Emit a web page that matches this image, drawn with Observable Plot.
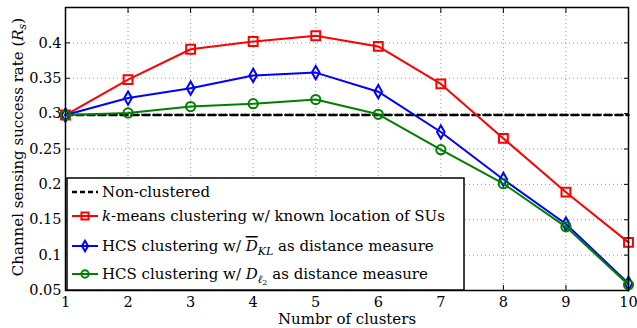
<!DOCTYPE html>
<html><head><meta charset="utf-8">
<script src="https://cdn.jsdelivr.net/npm/d3@7"></script>
<script src="https://cdn.jsdelivr.net/npm/@observablehq/plot@0.6"></script>
<style>body{margin:0;background:#fff}</style>
</head><body><div id="chart"></div>
<script>
const clusters = [1, 2, 3, 4, 5, 6, 7, 8, 9, 10];
const nonClustered = [0.298, 0.298, 0.298, 0.298, 0.298, 0.298, 0.298, 0.298, 0.298, 0.298];
const kmeans = [0.298, 0.348, 0.391, 0.402, 0.410, 0.395, 0.342, 0.265, 0.189, 0.118];
const hcsKL = [0.298, 0.322, 0.336, 0.354, 0.358, 0.331, 0.274, 0.207, 0.144, 0.060];
const hcsL2 = [0.298, 0.301, 0.310, 0.314, 0.320, 0.299, 0.249, 0.201, 0.140, 0.058];
const yTicks = [0.05, 0.1, 0.15, 0.2, 0.25, 0.3, 0.35, 0.4];
const xLabel = "Numbr of clusters";

const series = [
  {key: "non", values: nonClustered, color: "black", symbol: null, dash: "7,4", width: 2.6},
  {key: "kmeans", values: kmeans, color: "#ff0000", symbol: "square", r: 5, dash: null, width: 2},
  {key: "kl", values: hcsKL, color: "#0000ff", symbol: "diamond", r: 4, dash: null, width: 2},
  {key: "l2", values: hcsL2, color: "#008000", symbol: "circle", r: 4.6, dash: null, width: 2}
];

const font = "DejaVu Serif";
const marks = [
  Plot.gridX(clusters, {stroke: "#999", strokeOpacity: 1, strokeDasharray: "1,3"}),
  Plot.gridY(yTicks, {stroke: "#999", strokeOpacity: 1, strokeDasharray: "1,3"}),
  Plot.axisX(clusters, {tickSize: 0, tickPadding: 6, label: null, fontSize: 14.5}),
  Plot.axisY(yTicks, {tickSize: 0, tickPadding: 4, label: null, fontSize: 14.5, tickFormat: d => String(+d.toFixed(2))}),
  Plot.axisX(clusters, {anchor: "bottom", tickSize: -5, tickFormat: () => "", label: null}),
  Plot.axisX(clusters, {anchor: "top", tickSize: -5, tickFormat: () => "", label: null}),
  Plot.axisY(yTicks, {anchor: "left", tickSize: -5, tickFormat: () => "", label: null}),
  Plot.axisY(yTicks, {anchor: "right", tickSize: -5, tickFormat: () => "", label: null})
];
for (const s of series) {
  const rows = s.values.map((v, i) => ({x: clusters[i], y: v}));
  marks.push(Plot.line(rows, {x: "x", y: "y", stroke: s.color, strokeWidth: s.width, strokeDasharray: s.dash}));
  if (s.symbol) marks.push(Plot.dot(rows, {x: "x", y: "y", symbol: s.symbol, r: s.r, stroke: s.color, strokeWidth: 2, fill: "none"}));
}
marks.push(Plot.frame({stroke: "black", strokeWidth: 1.5}));

const plot = Plot.plot({
  width: 637, height: 328,
  marginLeft: 65, marginRight: 9, marginTop: 7, marginBottom: 38,
  style: {fontFamily: font, fontSize: "15px", color: "black", background: "white"},
  x: {domain: [1, 10]},
  y: {domain: [0.05, 0.45]},
  marks
});
document.getElementById("chart").appendChild(plot);

const svg = d3.select(plot);
function styled(sel) {
  return sel.style("font-family", font).style("font-size", "15px").style("fill", "black");
}
// x label
styled(svg.append("text")).attr("x", 347).attr("y", 324).style("text-anchor", "middle").text(xLabel);
// y label
const yl = styled(svg.append("text")).attr("transform", "translate(23,147) rotate(-90)").style("text-anchor", "middle");
yl.append("tspan").text("Channel sensing success rate (");
yl.append("tspan").style("font-style", "italic").text("R");
yl.append("tspan").style("font-style", "italic").style("font-size", "11px").attr("dy", 3).text("s");
yl.append("tspan").attr("dy", -3).text(")");

// legend
const lg = svg.append("g");
lg.append("rect").attr("x", 67).attr("y", 178).attr("width", 397).attr("height", 112)
  .attr("fill", "white").attr("stroke", "black").attr("stroke-width", 1.5);
const rowsY = [192, 216, 246, 274];
const sym = {square: d3.symbolSquare, diamond: d3.symbolDiamond, circle: d3.symbolCircle};
series.forEach((s, i) => {
  const y = rowsY[i];
  lg.append("line").attr("x1", 72).attr("x2", 98).attr("y1", y).attr("y2", y)
    .attr("stroke", s.color).attr("stroke-width", s.width).attr("stroke-dasharray", s.dash ? "5,3" : null);
  if (s.symbol) {
    lg.append("path").attr("d", d3.symbol(sym[s.symbol], Math.PI * (s.r * 0.8) ** 2)())
      .attr("transform", `translate(85,${y})`).attr("fill", "none").attr("stroke", s.color).attr("stroke-width", 2);
  }
});
function entry(y) { return styled(lg.append("text")).attr("x", 102).attr("y", y + 5).style("text-anchor", "start"); }
entry(rowsY[0]).text("Non-clustered");
{
  const t = entry(rowsY[1]);
  t.append("tspan").style("font-style", "italic").text("k");
  t.append("tspan").text("-means clustering w/ known location of SUs");
}
{
  const t = entry(rowsY[2]);
  t.append("tspan").text("HCS clustering w/ ");
  t.append("tspan").style("font-style", "italic").style("text-decoration", "overline").text("D");
  t.append("tspan").style("font-style", "italic").style("font-size", "11px").attr("dy", 4).text("KL");
  t.append("tspan").attr("dy", -4).text(" as distance measure");
}
{
  const t = entry(rowsY[3]);
  t.append("tspan").text("HCS clustering w/ ");
  t.append("tspan").style("font-style", "italic").text("D");
  t.append("tspan").style("font-style", "italic").style("font-size", "11px").attr("dy", 4).text("ℓ");
  t.append("tspan").style("font-size", "8px").attr("dy", 2).text("2");
  t.append("tspan").attr("dy", -6).text(" as distance measure");
}
</script>
</body></html>
